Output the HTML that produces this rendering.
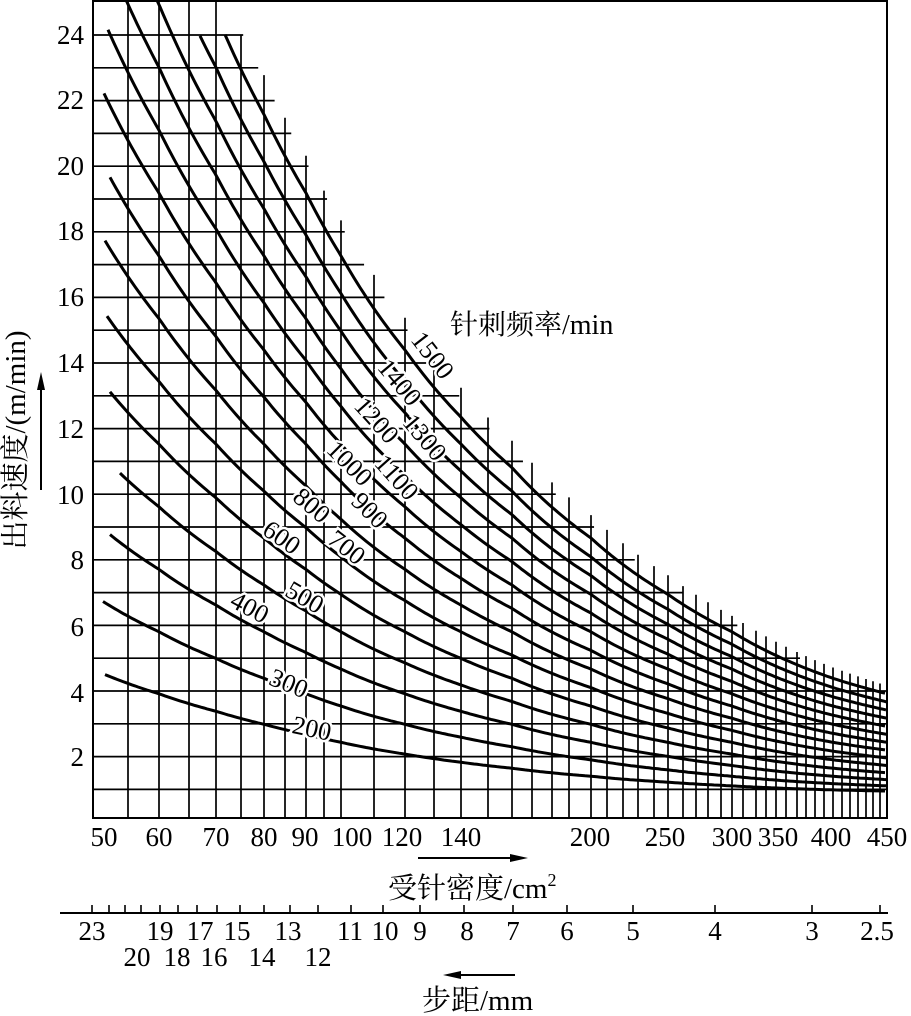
<!DOCTYPE html>
<html><head><meta charset="utf-8">
<style>
html,body{margin:0;padding:0;background:#fff;}
svg{display:block;}
text{font-family:"Liberation Serif","Noto Serif CJK SC","Noto Sans CJK SC",serif;fill:#000;}
</style></head>
<body>
<svg id="s" width="911" height="1016" viewBox="0 0 911 1016" xmlns="http://www.w3.org/2000/svg">
<defs><clipPath id="c"><rect x="93" y="0" width="794" height="818"/></clipPath></defs>
<g id="grid" stroke="#000" stroke-width="1.7" fill="none"></g>
<g id="curves" stroke="#000" stroke-width="3" fill="none" clip-path="url(#c)"></g>
<rect x="92" y="0" width="2" height="819" fill="#000"/>
<rect x="92" y="0" width="796" height="2" fill="#000"/>
<rect x="886" y="0" width="2" height="819" fill="#000"/>
<rect x="92" y="817" width="796" height="2" fill="#000"/>
<g font-size="26" style="paint-order:stroke" stroke="#fff" stroke-width="5" text-anchor="middle">
<text transform="translate(433,355) rotate(52)" dy="9">1500</text>
<text transform="translate(400,382) rotate(50)" dy="9">1400</text>
<text transform="translate(425,437) rotate(50)" dy="9">1300</text>
<text transform="translate(377,420) rotate(48)" dy="9">1200</text>
<text transform="translate(397,477) rotate(48)" dy="9">1100</text>
<text transform="translate(350,463) rotate(45)" dy="9">1000</text>
<text transform="translate(370,510) rotate(45)" dy="9">900</text>
<text transform="translate(312,505) rotate(40)" dy="9">800</text>
<text transform="translate(347,547) rotate(38)" dy="9">700</text>
<text transform="translate(282,537) rotate(35)" dy="9">600</text>
<text transform="translate(305,597) rotate(30)" dy="9">500</text>
<text transform="translate(250,607) rotate(28)" dy="9">400</text>
<text transform="translate(289,683) rotate(22)" dy="9">300</text>
<text transform="translate(312,728) rotate(12)" dy="9">200</text>
</g>
<text x="450" y="334" font-size="28">针刺频率/min</text>
<g font-size="27" text-anchor="end">
<text x="84" y="44">24</text><text x="84" y="109">22</text><text x="84" y="175">20</text>
<text x="84" y="240">18</text><text x="84" y="306">16</text><text x="84" y="372">14</text>
<text x="84" y="438">12</text><text x="84" y="504">10</text><text x="84" y="569">8</text>
<text x="84" y="636">6</text><text x="84" y="702">4</text><text x="84" y="766">2</text>
</g>
<text transform="translate(25,440) rotate(-90)" font-size="29" text-anchor="middle">出料速度/(m/min)</text>
<line x1="41" y1="490" x2="41" y2="385" stroke="#000" stroke-width="2"/>
<polygon points="41,372 37,390 45,390" fill="#000"/>
<g font-size="27" text-anchor="middle">
<text x="104" y="846">50</text><text x="159" y="846">60</text><text x="216" y="846">70</text>
<text x="264" y="846">80</text><text x="305" y="846">90</text><text x="352" y="846">100</text>
<text x="402" y="846">120</text><text x="461" y="846">140</text><text x="590" y="846">200</text>
<text x="665" y="846">250</text><text x="732" y="846">300</text><text x="778" y="846">350</text>
<text x="831" y="846">400</text><text x="887" y="846">450</text>
</g>
<line x1="418" y1="858" x2="515" y2="858" stroke="#000" stroke-width="2"/>
<polygon points="528,858 510,854 510,862" fill="#000"/>
<text x="388" y="898" font-size="29">受针密度/cm<tspan font-size="18" dy="-12">2</tspan></text>
<line x1="60" y1="913" x2="888" y2="913" stroke="#000" stroke-width="2"/>
<g id="ticks" stroke="#000" stroke-width="1.6"></g>
<g font-size="27" text-anchor="middle">
<text x="92" y="940">23</text><text x="160" y="940">19</text><text x="200" y="940">17</text>
<text x="237" y="940">15</text><text x="288" y="940">13</text><text x="350" y="940">11</text>
<text x="385" y="940">10</text><text x="420" y="940">9</text><text x="467" y="940">8</text>
<text x="513" y="940">7</text><text x="567" y="940">6</text><text x="633" y="940">5</text>
<text x="715" y="940">4</text><text x="812" y="940">3</text><text x="877" y="940">2.5</text>
<text x="137" y="966">20</text><text x="177" y="966">18</text><text x="214" y="966">16</text>
<text x="262" y="966">14</text><text x="318" y="966">12</text>
</g>
<line x1="455" y1="975" x2="515" y2="975" stroke="#000" stroke-width="2"/>
<polygon points="443,975 461,971 461,979" fill="#000"/>
<text x="422" y="1010" font-size="29">步距/mm</text>
</svg>
<script>
(function(){
var NS="http://www.w3.org/2000/svg";
var A=[[50,92],[60,159],[70,216],[80,264],[90,306],[100,341],[120,405],[140,461],[160,512],[200,591],[250,668],[300,732],[400,833],[450,887]];
function X(d){for(var i=0;i<A.length-1;i++){if(d<=A[i+1][0]){var t=(d-A[i][0])/(A[i+1][0]-A[i][0]);return A[i][1]+t*(A[i+1][1]-A[i][1]);}}return 887;}
function D(x){for(var i=0;i<A.length-1;i++){if(x<=A[i+1][1]){var t=(x-A[i][1])/(A[i+1][1]-A[i][1]);return A[i][0]+t*(A[i+1][0]-A[i][0]);}}return 450;}
function Y(v){return 35+(24-v)*32.8;}
var K=1.15;
function V(d,f){var a=K*f/d;return Math.sqrt(a*a+0.64);}
function el(p,n,at){var e=document.createElementNS(NS,n);for(var k in at)e.setAttribute(k,at[k]);p.appendChild(e);return e;}
var g=document.getElementById('grid'),c=document.getElementById('curves'),tk=document.getElementById('ticks');
var vx=[128,159,189,216,241,264,285,306,324,341,374,405,434,461,488,512,532,552,569,591,607,623,638,654,668,683,696,708,721,732,743,756,766,776,786,797,806,815,824,833,842,850,858,866,873,880];
vx.forEach(function(x){var top=0;if(x>220){var off=Math.max(8,40-(x-250)*0.05);top=Math.max(0,Y(V(D(x),1500))-off);if(x<250)top=35;}
el(g,'line',{x1:x,y1:top,x2:x,y2:818});});
for(var v=1;v<=24;v++){var y=Y(v);var d=K*1500/Math.sqrt(Math.max(v*v-0.64,0.01));var xe=Math.min(887,X(Math.min(d,450))+18);if(d>=450)xe=887;
el(g,'line',{x1:93,y1:y,x2:xe,y2:y});}
var cs=[[200,105],[300,103],[400,110],[500,120],[600,110],[700,107],[800,105],[900,110],[1000,104],[1100,108],[1200,110],[1300,130],[1400,200],[1500,225]];
cs.forEach(function(s){var f=s[0],pts=[];for(var x=s[1];x<=887;x+=3){pts.push(x.toFixed(1)+','+Y(V(D(x),f)).toFixed(1));}
el(c,'polyline',{points:pts.join(' ')});});
var t=[92,109,125,141,160,178,197,217,240,264,290,318,351,383,420,464,513,567,633,715,812,880];
t.forEach(function(x){el(tk,'line',{x1:x,y1:913,x2:x,y2:905});});
})();
</script>
</body></html>
